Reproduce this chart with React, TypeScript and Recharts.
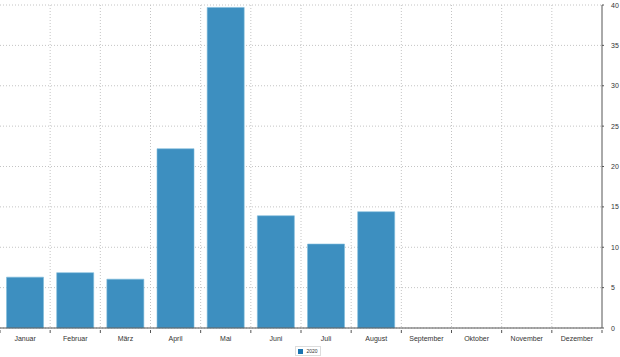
import React from "react";
import { BarChart, Bar, XAxis, YAxis, CartesianGrid } from "recharts";

const months = ["Januar", "Februar", "März", "April", "Mai", "Juni", "Juli", "August", "September", "Oktober", "November", "Dezember"];
const values2020: (number | null)[] = [6.3, 6.85, 6.05, 22.2, 39.7, 13.9, 10.4, 14.4, null, null, null, null];
const yTicks = [0, 5, 10, 15, 20, 25, 30, 35, 40];
const seriesName = "2020";

const data = months.map((m, i) => ({ month: m, v: values2020[i] }));

const W = 620;
const H = 357;
const PLOT_LEFT = 0;
const PLOT_RIGHT = 602;
const BAND = (PLOT_RIGHT - PLOT_LEFT) / months.length;
const FONT = "'Liberation Sans', Arial, sans-serif";
const BLUE = "#3d8fc0";

const XTick = (props: any) => {
  const { x, y, payload, index } = props;
  const left = x - BAND / 2;
  return (
    <g>
      <line x1={left} y1={y} x2={left} y2={y + 3} stroke="#555" />
      {index === months.length - 1 && (
        <line x1={x + BAND / 2} y1={y} x2={x + BAND / 2} y2={y + 3} stroke="#555" />
      )}
      <text x={x} y={y + 11} textAnchor="middle" fontSize={7} fill="#333" fontFamily={FONT}>
        {payload.value}
      </text>
    </g>
  );
};

const YTick = (props: any) => {
  const { x, y, payload } = props;
  return (
    <text x={x + 5} y={y + 2.5} textAnchor="start" fontSize={7} fill="#333" fontFamily={FONT}>
      {payload.value}
    </text>
  );
};

export default function App() {
  return (
    <div style={{ position: "absolute", left: 0, top: 0, width: W, height: H, background: "#fff", fontFamily: FONT }}>
      <BarChart
        width={W}
        height={H}
        data={data}
        margin={{ top: 5, right: 0, left: 0, bottom: 13 }}
        barCategoryGap="13%"
      >
        <CartesianGrid
          stroke="#c4c4c4"
          strokeDasharray="1 2"
          verticalCoordinatesGenerator={({ offset }: any) =>
            months.slice(1).map((_, i) => offset.left + ((i + 1) * offset.width) / months.length)
          }
        />
        <XAxis
          dataKey="month"
          height={16}
          interval={0}
          tickLine={false}
          tickSize={0}
          axisLine={{ stroke: "#555" }}
          tick={<XTick />}
        />
        <YAxis
          orientation="right"
          width={18}
          domain={[0, 40]}
          ticks={yTicks}
          interval={0}
          tickSize={2}
          tickLine={{ stroke: "#555" }}
          axisLine={{ stroke: "#555" }}
          tick={<YTick />}
        />
        <Bar dataKey="v" name={seriesName} fill={BLUE} stroke="#7fbcdc" strokeWidth={0.6} isAnimationActive={false} />
      </BarChart>
      <div
        style={{
          position: "absolute",
          left: 295,
          top: 346,
          width: 26,
          height: 10,
          border: "1px solid #ddd",
          boxSizing: "border-box",
          display: "flex",
          alignItems: "center",
          justifyContent: "center",
          gap: 3,
          fontSize: 5,
          color: "#333",
        }}
      >
        <span style={{ display: "inline-block", width: 5, height: 5, background: "#1a74b0" }} />
        <span>{seriesName}</span>
      </div>
    </div>
  );
}
